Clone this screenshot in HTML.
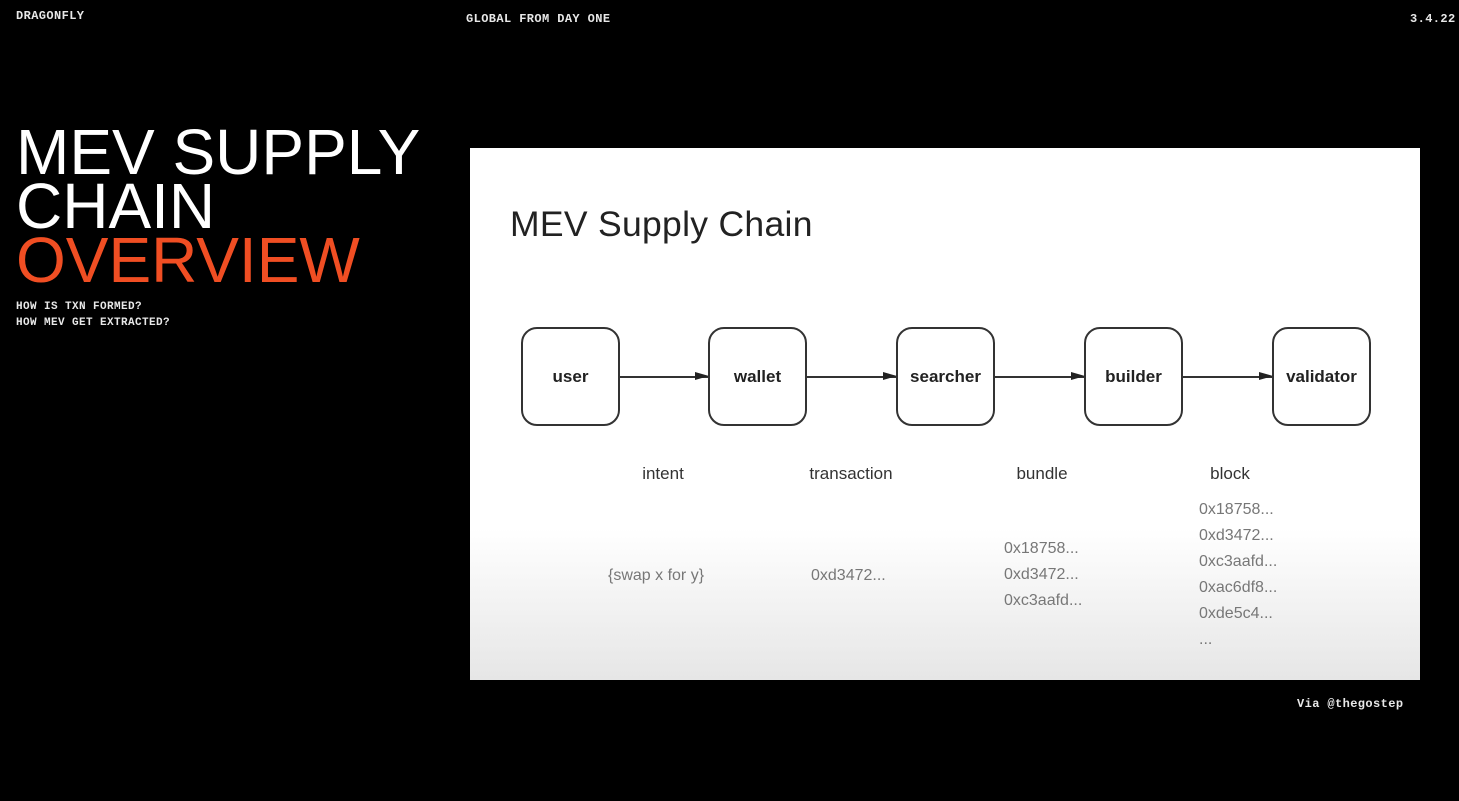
<!DOCTYPE html>
<html><head><meta charset="utf-8"><style>
*{margin:0;padding:0;box-sizing:border-box}
body{width:1459px;height:801px;background:#000;position:relative;overflow:hidden;font-family:"Liberation Sans",sans-serif}
.m{position:absolute;font-family:"Liberation Mono",monospace;color:#e8e8e8;font-size:12px;letter-spacing:0.4px;font-weight:bold}
.big{position:absolute;left:16px;font-size:64px;line-height:54px;color:#fff;letter-spacing:0}
#panel{position:absolute;left:470px;top:148px;width:950px;height:532px;background:linear-gradient(#fff 0px,#fff 380px,#e6e6e6 532px)}
.box{position:absolute;top:179px;width:99px;height:99px;border:2px solid #333;border-radius:16px;display:flex;align-items:center;justify-content:center;font-weight:bold;font-size:17px;color:#222;background:#fff}
.arr{position:absolute;top:228px;height:1.5px;background:#333}
.arr:after{content:"";position:absolute;right:-1px;top:-4px;border-left:14px solid #222;border-top:4.5px solid transparent;border-bottom:4.5px solid transparent}
.lab{position:absolute;top:316px;font-size:17px;color:#333;text-align:center;width:140px}
.hx{position:absolute;font-size:16px;color:#777;line-height:26px}
</style></head><body>
<div class="m" style="left:16px;top:9px">DRAGONFLY</div>
<div class="m" style="left:466px;top:12px">GLOBAL FROM DAY ONE</div>
<div class="m" style="left:1410px;top:12px">3.4.22</div>
<div class="big" style="top:125px">MEV SUPPLY</div>
<div class="big" style="top:179px">CHAIN</div>
<div class="big" style="top:233px;color:#f04e23">OVERVIEW</div>
<div class="m" style="left:16px;top:299px;font-size:11px;line-height:16px">HOW IS TXN FORMED?<br>HOW MEV GET EXTRACTED?</div>
<div id="panel">
<div style="position:absolute;left:40px;top:56px;font-size:35.5px;color:#222;letter-spacing:0.3px">MEV Supply Chain</div>
<div class="box" style="left:51px">user</div>
<div class="box" style="left:238px">wallet</div>
<div class="box" style="left:426px">searcher</div>
<div class="box" style="left:614px">builder</div>
<div class="box" style="left:802px">validator</div>
<div class="arr" style="left:150px;width:88px"></div>
<div class="arr" style="left:337px;width:89px"></div>
<div class="arr" style="left:525px;width:89px"></div>
<div class="arr" style="left:713px;width:89px"></div>
<div class="lab" style="left:123px">intent</div>
<div class="lab" style="left:311px">transaction</div>
<div class="lab" style="left:502px">bundle</div>
<div class="lab" style="left:690px">block</div>
<div class="hx" style="left:138px;top:415px">{swap x for y}</div>
<div class="hx" style="left:341px;top:415px">0xd3472...</div>
<div class="hx" style="left:534px;top:388px">0x18758...<br>0xd3472...<br>0xc3aafd...</div>
<div class="hx" style="left:729px;top:349px">0x18758...<br>0xd3472...<br>0xc3aafd...<br>0xac6df8...<br>0xde5c4...<br>...</div>
</div>
<div class="m" style="left:1297px;top:697px">Via @thegostep</div>
</body></html>
